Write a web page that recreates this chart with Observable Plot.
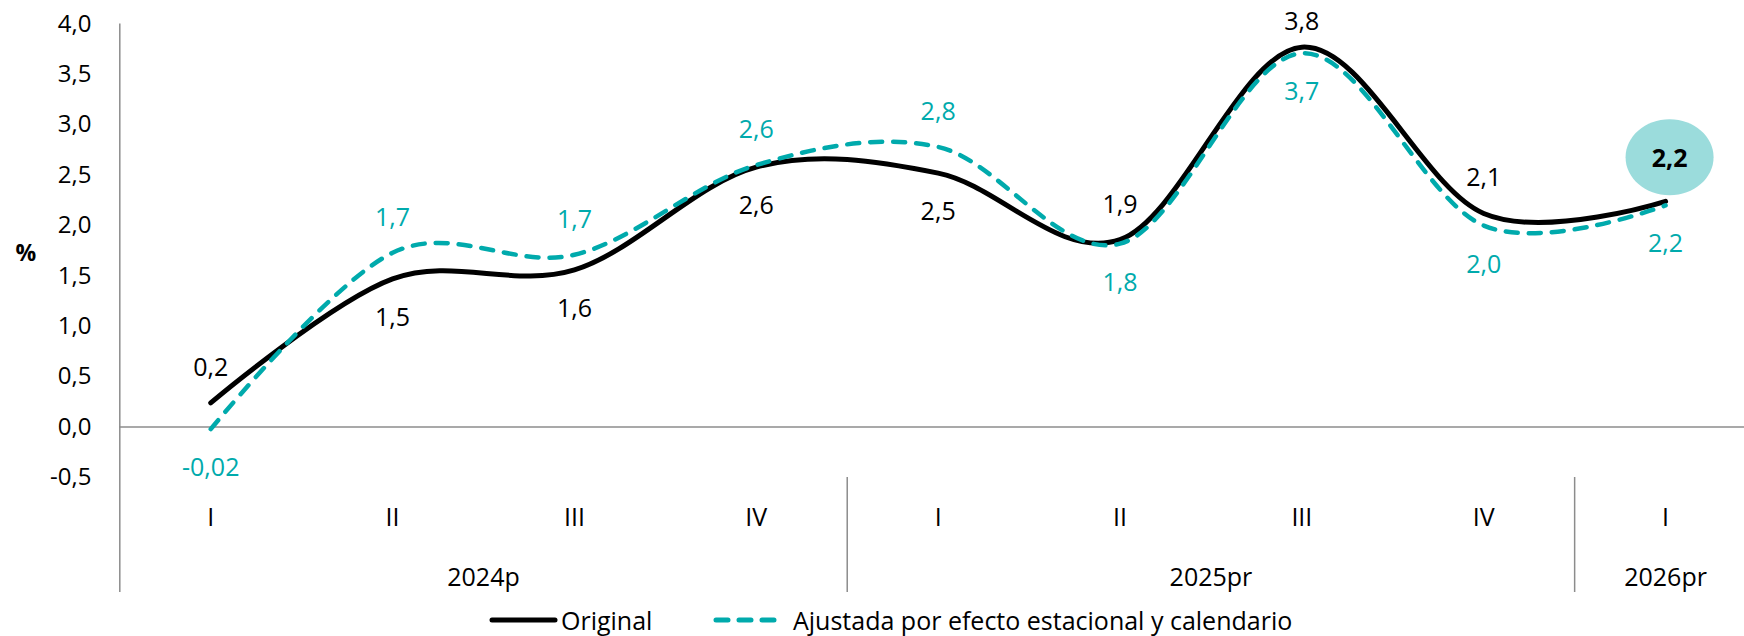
<!DOCTYPE html>
<html><head><meta charset="utf-8">
<script src="https://cdn.jsdelivr.net/npm/d3@7"></script>
<script src="https://cdn.jsdelivr.net/npm/@observablehq/plot@0.6"></script>
<style>
body{margin:0;background:#fff;font-family:"Open Sans",sans-serif;}
#legend{position:relative;height:36px;width:1744px;font-size:25px;color:#000;}
#legend .item{position:absolute;top:2px;height:36px;display:flex;align-items:center;}
</style></head><body><div id="chart"></div><div id="legend"></div>
<script>
const quarters = ["I","II","III","IV","I","II","III","IV","I"];
const years = ["2024p","2025pr","2026pr"];
const quartersPerYear = [4,4,1];
const original = [0.24,1.47,1.56,2.58,2.52,1.86,3.77,2.12,2.24];
const originalLabels = ["0,2","1,5","1,6","2,6","2,5","1,9","3,8","2,1","2,2"];
const adjusted = [-0.02,1.73,1.71,2.6,2.78,1.82,3.71,2.0,2.2];
const adjustedLabels = ["-0,02","1,7","1,7","2,6","2,8","1,8","3,7","2,0","2,2"];
const yTicks = [-0.5,0,0.5,1,1.5,2,2.5,3,3.5,4];
const seriesNames = ["Original","Ajustada por efecto estacional y calendario"];
const yTitle = "%";

const BLACK = "#000000", TEAL = "#00AAAC", GRAY = "#8C8C8C", BUBBLE = "#9BDCDC";

const rows = quarters.map((q, i) => ({i, q, orig: original[i], adj: adjusted[i], ol: originalLabels[i], al: adjustedLabels[i]}));
const last = rows.length - 1;
const yMax = 4;

// year groups
let acc = 0;
const yearRows = years.map((y, k) => { const s = acc; acc += quartersPerYear[k]; return {y, center: (s + acc - 1) / 2, end: acc - 0.5}; });
const separators = yearRows.slice(0, -1).map(d => d.end);

const ellipse = {draw(ctx, size){ const ry = Math.sqrt(size/Math.PI), rx = ry*44/38, k = 0.5523;
  ctx.moveTo(rx,0); ctx.bezierCurveTo(rx,k*ry,k*rx,ry,0,ry); ctx.bezierCurveTo(-k*rx,ry,-rx,k*ry,-rx,0);
  ctx.bezierCurveTo(-rx,-k*ry,-k*rx,-ry,0,-ry); ctx.bezierCurveTo(k*rx,-ry,rx,-k*ry,rx,0); ctx.closePath(); }};

const fmt = d => d.toFixed(1).replace(".", ",");
const FS = 25, TFS = 24;

// labels above the black line; those near the top of the frame are held inside it
const blackAbove = rows.filter(d => d.orig > d.adj && d.i !== last);
const nearTop = d => d.orig > yMax - 0.35;

const chart = Plot.plot({
  width: 1744, height: 600,
  marginTop: 23, marginLeft: 119, marginRight: 0, marginBottom: 123,
  x: {domain: [-0.5, quarters.length - 0.5], range: [119.3, 1756], axis: null},
  y: {domain: [-0.5, yMax], range: [477, 23.5], axis: null},
  style: {fontFamily: "'Open Sans', sans-serif", fontSize: FS + "px", background: "#fff", color: "#000", overflow: "visible"},
  marks: [
    Plot.ruleY([0], {stroke: GRAY, strokeWidth: 1.5}),
    Plot.ruleX([-0.5], {y1: yMax, y2: -0.5, insetBottom: -115, stroke: GRAY, strokeWidth: 1.5}),
    Plot.ruleX(separators, {y1: -0.5, y2: -0.5, insetBottom: -115, stroke: GRAY, strokeWidth: 1.5}),
    Plot.axisY(yTicks, {tickSize: 0, tickPadding: 28, tickFormat: fmt, fontSize: TFS, fill: "#000"}),
    Plot.text([yTitle], {frameAnchor: "left", dx: -104, dy: 3, fontWeight: "bold", fontSize: 23, fill: "#000"}),
    Plot.text(rows, {x: "i", text: "q", frameAnchor: "bottom", lineAnchor: "middle", dy: 40, fill: "#000", fontSize: FS}),
    Plot.text(yearRows, {x: "center", text: "y", frameAnchor: "bottom", lineAnchor: "middle", dy: 100, fill: "#000", fontSize: FS}),
    Plot.dot([last], {x: d => d, y: d => original[d], r: 38, symbol: ellipse, fill: BUBBLE, dx: 4, dy: -44}),
    Plot.line(rows, {x: "i", y: "orig", curve: "cardinal", stroke: BLACK, strokeWidth: 5, strokeLinecap: "round"}),
    Plot.line(rows, {x: "i", y: "adj", curve: "cardinal", stroke: TEAL, strokeWidth: 4.5, strokeDasharray: "12,11", strokeLinecap: "round"}),
    Plot.text(blackAbove.filter(d => !nearTop(d)), {x: "i", y: "orig", text: "ol", dy: -35, fill: BLACK, fontSize: FS}),
    Plot.text(blackAbove.filter(nearTop), {x: "i", text: "ol", frameAnchor: "top", lineAnchor: "middle", dy: -2, fill: BLACK, fontSize: FS}),
    Plot.text(rows.filter(d => d.orig <= d.adj), {x: "i", y: "orig", text: "ol", dy: 39, fill: BLACK, fontSize: FS}),
    Plot.text(rows.filter(d => d.i === last), {x: "i", y: "orig", text: "ol", dy: -42, dx: 4, fill: BLACK, fontWeight: "bold", fontSize: FS}),
    Plot.text(rows.filter(d => d.orig <= d.adj), {x: "i", y: "adj", text: "al", dy: -35, fill: TEAL, fontSize: FS}),
    Plot.text(rows.filter(d => d.orig > d.adj), {x: "i", y: "adj", text: "al", dy: 39, fill: TEAL, fontSize: FS})
  ]
});
document.getElementById("chart").appendChild(chart);

const legend = document.getElementById("legend");
const items = [
  {name: seriesNames[0], color: BLACK, dash: null, left: 489},
  {name: seriesNames[1], color: TEAL, dash: "12,11", left: 713}
];
for (const it of items) {
  const div = document.createElement("div");
  div.className = "item";
  div.style.left = it.left + "px";
  div.innerHTML = `<svg width="72" height="36"><line x1="3" x2="${it.dash ? 64 : 66}" y1="18" y2="18" stroke="${it.color}" stroke-width="5" stroke-linecap="round" ${it.dash ? `stroke-dasharray="${it.dash}"` : ""}/></svg><span style="margin-left:${it.dash ? 8 : 0}px">${it.name}</span>`;
  legend.appendChild(div);
}
</script></body></html>
